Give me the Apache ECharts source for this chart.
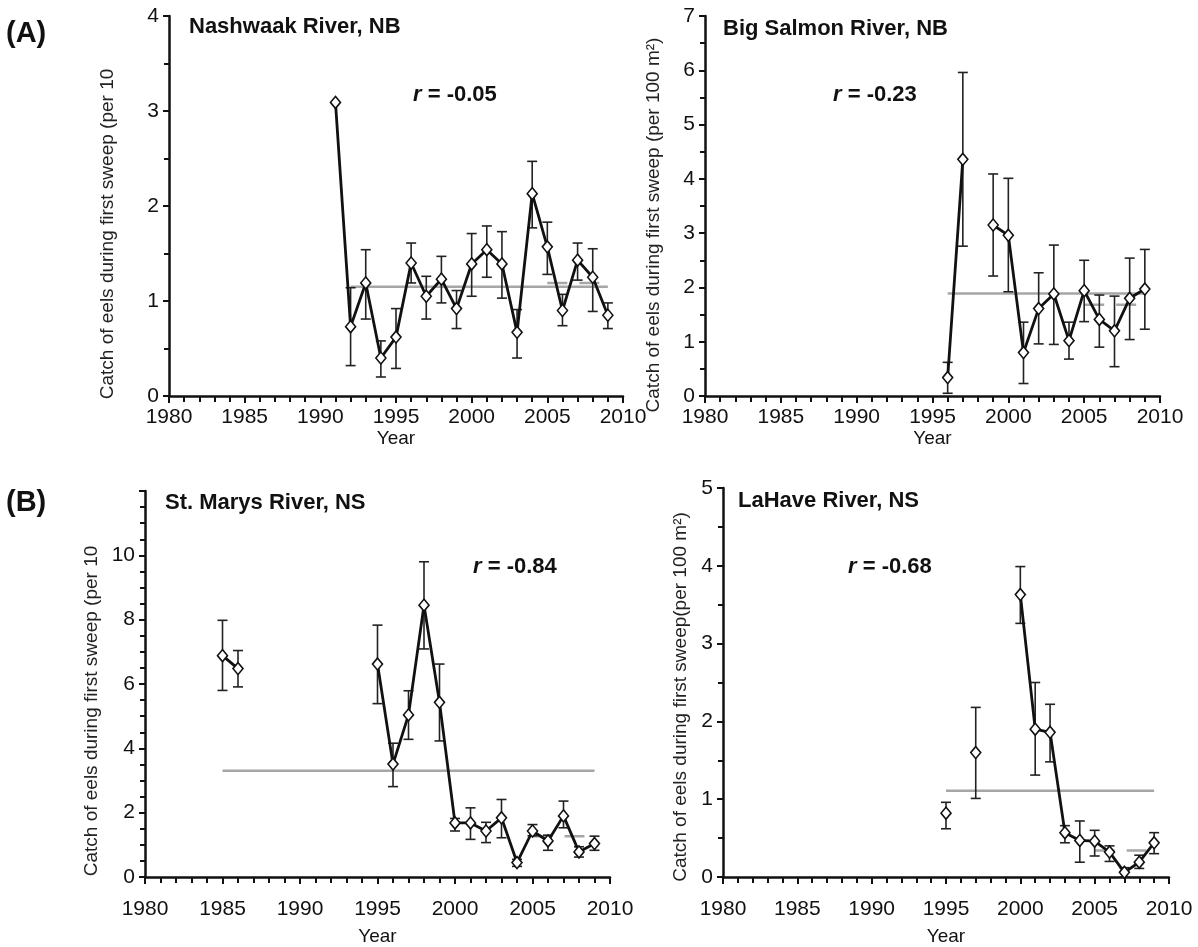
<!DOCTYPE html>
<html>
<head>
<meta charset="utf-8">
<script src="https://cdn.jsdelivr.net/npm/echarts@6/dist/echarts.min.js"></script>
<style>
html,body{margin:0;padding:0;background:#fff;}
#c{width:1198px;height:947px;}
</style>
</head>
<body>
<div id="c"></div>
<script>
// ---------------- DATA ----------------
// Nashwaak River, NB
const nashYears = [1991,1992,1993,1994,1995,1996,1997,1998,1999,2000,2001,2002,2003,2004,2005,2006,2007,2008,2009];
const nashVals  = [3.09,0.73,1.19,0.40,0.62,1.40,1.05,1.23,0.92,1.39,1.54,1.39,0.67,2.13,1.57,0.90,1.43,1.25,0.85];
const nashLow   = [null,0.32,0.81,0.20,0.29,1.19,0.81,0.98,0.71,1.05,1.25,1.03,0.40,1.77,1.28,0.74,1.22,0.89,0.71];
const nashHigh  = [null,1.14,1.54,0.58,0.92,1.61,1.26,1.47,1.11,1.71,1.79,1.73,0.91,2.47,1.83,1.07,1.61,1.55,0.98];
const nashMean = [1992, 2009, 1.15];
const nashRecent = [2005, 2009, 1.19];

// Big Salmon River, NB
const bigYears = [1996,1997,1998,1999,2000,2001,2002,2003,2004,2005,2006,2007,2008,2009];
const bigVals  = [0.34,4.36,null,3.15,2.96,0.80,1.61,1.88,1.02,1.94,1.41,1.20,1.80,1.97];
const bigLow   = [0.05,2.76,null,2.21,1.92,0.23,0.96,0.95,0.68,1.37,0.90,0.54,1.04,1.23];
const bigHigh  = [0.62,5.96,null,4.09,4.01,1.36,2.27,2.78,1.36,2.50,1.86,1.84,2.54,2.70];
const bigMean = [1996, 2009, 1.89];
const bigRecent = [2005, 2009, 1.68];

// St. Marys River, NS
const stmYears = [1985,1986,1987,1988,1989,1990,1991,1992,1993,1994,1995,1996,1997,1998,1999,2000,2001,2002,2003,2004,2005,2006,2007,2008,2009];
const stmVals  = [6.88,6.48,null,null,null,null,null,null,null,null,6.62,3.51,5.04,8.45,5.43,1.68,1.68,1.43,1.84,0.45,1.43,1.12,1.90,0.78,1.04];
const stmLow   = [5.80,5.91,null,null,null,null,null,null,null,null,5.39,2.81,4.28,7.09,4.23,1.43,1.17,1.07,1.22,0.33,1.28,0.83,1.53,0.62,0.83];
const stmHigh  = [7.98,7.04,null,null,null,null,null,null,null,null,7.83,4.16,5.79,9.80,6.62,1.82,2.15,1.70,2.41,0.55,1.63,1.30,2.36,0.94,1.27];
const stmMean = [1985, 2009, 3.30];
const stmRecent = [2005, 2009, 1.27];

// LaHave River, NS
const laYears = [1995,1996,1997,1998,1999,2000,2001,2002,2003,2004,2005,2006,2007,2008,2009];
const laVals  = [0.82,null,1.60,null,null,3.63,1.90,1.86,0.57,0.47,0.46,0.32,0.06,0.19,0.44];
const laLow   = [0.62,null,1.01,null,null,3.26,1.31,1.48,0.44,0.19,0.27,0.20,0.00,0.11,0.30];
const laHigh  = [0.96,null,2.18,null,null,3.99,2.50,2.22,0.66,0.72,0.60,0.40,0.12,0.28,0.57];
const laMean = [1995, 2009, 1.11];
const laRecent = [2005, 2009, 0.34];

const panelTitles = ['Nashwaak River, NB','Big Salmon River, NB','St. Marys River, NS','LaHave River, NS'];
const rLabels = ['-0.05','-0.23','-0.84','-0.68'];
const yTitles = ['Catch of eels during first sweep (per 10','Catch of eels during first sweep (per 100 m²)','Catch of eels during first sweep (per 10','Catch of eels during first sweep(per 100 m²)'];
const yMax = [4, 7, 12, 5];
const yInterval = [1, 1, 2, 1];
const yMinorSplit = [2, 2, 4, 2];

// ---------------- LAYOUT ----------------
const FONT = '"Liberation Sans", Arial, Helvetica, sans-serif';
const grids = [
  {left:169, top:16, width:454, height:380},
  {left:705, top:16, width:455, height:380},
  {left:145, top:491, width:465, height:386},
  {left:723, top:488, width:446, height:389}
];

const panels = [
  {years:nashYears, vals:nashVals, low:nashLow, high:nashHigh, mean:nashMean, recent:nashRecent},
  {years:bigYears, vals:bigVals, low:bigLow, high:bigHigh, mean:bigMean, recent:bigRecent},
  {years:stmYears, vals:stmVals, low:stmLow, high:stmHigh, mean:stmMean, recent:stmRecent},
  {years:laYears, vals:laVals, low:laLow, high:laHigh, mean:laMean, recent:laRecent}
];

const xAxes = [], yAxes = [], series = [];
panels.forEach((p, i) => {
  xAxes.push({
    gridIndex:i, type:'value', min:1980, max:2010, interval:5,
    name:'Year', nameLocation:'middle', nameGap:(i<2?28:50),
    nameTextStyle:{fontFamily:FONT, fontSize:19, color:'#111'},
    axisLine:{show:true, onZero:false, lineStyle:{color:'#111', width:2.5}},
    axisTick:{show:true, inside:false, length:7, lineStyle:{color:'#111', width:2}},
    minorTick:{show:true, splitNumber:5, length:6, lineStyle:{color:'#111', width:2}},
    axisLabel:{fontFamily:FONT, fontSize:21, color:'#111', margin:(i<2?11:22),
      formatter:(v) => String(v)},
    splitLine:{show:false}
  });
  yAxes.push({
    gridIndex:i, type:'value', min:0, max:yMax[i], interval:yInterval[i],
    axisLine:{show:true, onZero:false, lineStyle:{color:'#111', width:2.5}},
    axisTick:{show:true, inside:false, length:6, lineStyle:{color:'#111', width:2}},
    minorTick:{show:true, splitNumber:yMinorSplit[i], length:5, lineStyle:{color:'#111', width:2}},
    axisLabel:{fontFamily:FONT, fontSize:21, color:'#111', margin:10,
      formatter: (v) => (i===2 && v===12) ? '' : String(v)},
    splitLine:{show:false}
  });
  // mean line (solid gray)
  series.push({
    type:'line', xAxisIndex:i, yAxisIndex:i, silent:true, symbol:'none', z:2,
    data:[[p.mean[0], p.mean[2]], [p.mean[1], p.mean[2]]],
    lineStyle:{color:'#a6a6a6', width:2.5}
  });
  // recent mean (dashed gray)
  series.push({
    type:'line', xAxisIndex:i, yAxisIndex:i, silent:true, symbol:'none', z:2,
    data:[[p.recent[0], p.recent[2]], [p.recent[1], p.recent[2]]],
    lineStyle:{color:'#a6a6a6', width:2.5, type:[20,12]}
  });
  // error bars
  const eb = [];
  p.years.forEach((y, k) => { if (p.low[k] != null) eb.push([y, p.low[k], p.high[k]]); });
  series.push({
    type:'custom', xAxisIndex:i, yAxisIndex:i, silent:true, z:3,
    data:eb,
    renderItem:(params, api) => {
      const x = api.value(0);
      const top = api.coord([x, api.value(2)]);
      const bot = api.coord([x, api.value(1)]);
      const w = 5, st = {stroke:'#222', lineWidth:1.6};
      return {type:'group', children:[
        {type:'line', shape:{x1:top[0], y1:top[1], x2:bot[0], y2:bot[1]}, style:st},
        {type:'line', shape:{x1:top[0]-w, y1:top[1], x2:top[0]+w, y2:top[1]}, style:st},
        {type:'line', shape:{x1:bot[0]-w, y1:bot[1], x2:bot[0]+w, y2:bot[1]}, style:st}
      ]};
    }
  });
  // data line
  series.push({
    type:'line', xAxisIndex:i, yAxisIndex:i, silent:true, z:4,
    data:p.years.map((y, k) => [y, p.vals[k] == null ? '-' : p.vals[k]]),
    connectNulls:false, showSymbol:true, showAllSymbol:true,
    symbol:'diamond', symbolSize:[10,12],
    itemStyle:{color:'#fff', borderColor:'#111', borderWidth:1.6},
    lineStyle:{color:'#111', width:2.8}
  });
});

// ---------------- TEXT ----------------
const graphic = [];
const txt = (x, y, text, style) => ({type:'text', x:x, y:y, silent:true,
  style:Object.assign({text:text, fontFamily:FONT, fill:'#111'}, style)});

graphic.push(txt(6, 34, '(A)', {fontSize:29, fontWeight:'bold', verticalAlign:'middle'}));
graphic.push(txt(6, 503, '(B)', {fontSize:29, fontWeight:'bold', verticalAlign:'middle'}));

const titlePos = [[189,27],[723,29],[165,503],[738,501]];
panelTitles.forEach((t, i) => graphic.push(txt(titlePos[i][0], titlePos[i][1], t,
  {fontSize:22, fontWeight:'bold', verticalAlign:'middle'})));

const rPos = [[413,95],[833,95],[473,567],[848,567]];
rLabels.forEach((r, i) => graphic.push({type:'text', x:rPos[i][0], y:rPos[i][1], silent:true,
  style:{text:'{i|r} = ' + r, fontFamily:FONT, fontSize:22, fontWeight:'bold', fill:'#111', verticalAlign:'middle',
    rich:{i:{fontStyle:'italic', fontWeight:'bold', fontFamily:FONT, fontSize:22, fill:'#111'}}}}));

const yTitlePos = [[108,234],[654,225],[92,711],[681,697]];
yTitles.forEach((t, i) => graphic.push({type:'text', x:yTitlePos[i][0], y:yTitlePos[i][1], rotation:Math.PI/2, silent:true,
  style:{text:t, fontFamily:FONT, fontSize:19, fill:'#222', align:'center', verticalAlign:'middle'}}));

const chart = echarts.init(document.getElementById('c'), null, {renderer:'canvas'});
chart.setOption({
  backgroundColor:'#fff',
  animation:false,
  grid:grids.map(g => Object.assign({containLabel:false}, g)),
  xAxis:xAxes, yAxis:yAxes, series:series, graphic:graphic
});
</script>
</body>
</html>
